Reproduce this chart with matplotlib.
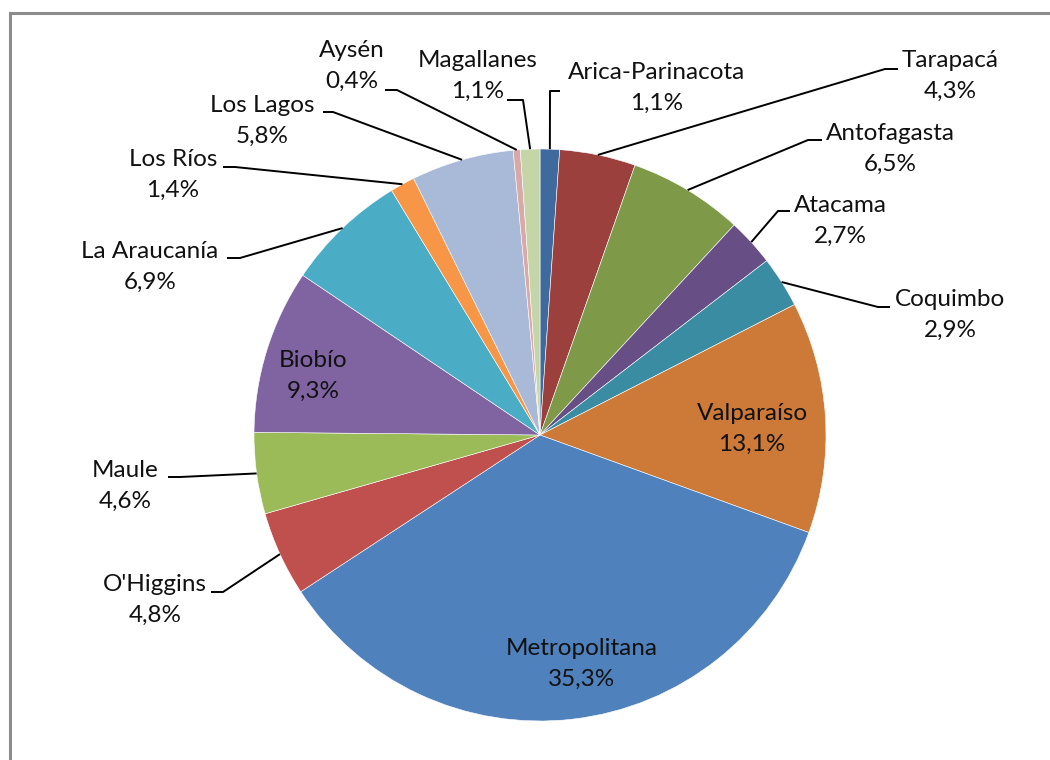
import numpy as np
import matplotlib.pyplot as plt
from matplotlib.patches import Rectangle

plt.rcParams['font.family'] = ['Lato', 'DejaVu Sans']

regions = ['Arica-Parinacota', 'Tarapacá', 'Antofagasta', 'Atacama', 'Coquimbo',
           'Valparaíso', 'Metropolitana', "O'Higgins", 'Maule', 'Biobío',
           'La Araucanía', 'Los Ríos', 'Los Lagos', 'Aysén', 'Magallanes']
shares = [1.1, 4.3, 6.5, 2.7, 2.9, 13.1, 35.3, 4.8, 4.6, 9.3, 6.9, 1.4, 5.8, 0.4, 1.1]
colors = ['#3F6A9D', '#9C403E', '#7E9A49', '#674F85', '#3A8CA3', '#CD7A38',
          '#4F81BD', '#C0504D', '#9BBB59', '#8064A2', '#4BACC6', '#F79646',
          '#A9B9D8', '#D9A9A8', '#C4D5A8']

W, H = 1050, 760
CX, CY, R = 540, 435, 286

fig = plt.figure(figsize=(W / 100, H / 100), dpi=100)
fig.patches.append(Rectangle((10 / W, -0.1), 1.2, 1 - 13 / H + 0.1,
                             transform=fig.transFigure, fill=False,
                             edgecolor='#8C8C8C', linewidth=2.2))
ax = fig.add_axes([(CX - R) / W, 1 - (CY + R) / H, 2 * R / W, 2 * R / H])

wedges, _ = ax.pie(shares, colors=colors, startangle=90, counterclock=False,
                   radius=1, wedgeprops=dict(edgecolor='white', linewidth=0.4))
ax.set_xlim(-1, 1)
ax.set_ylim(-1, 1)
ax.axis('off')


def px(x, y):
    # pixel position -> data units of the pie axes
    return (x - CX) / R, (CY - y) / R


# label placement: text centre, elbow of leader, end of leader (pixels)
layout = {
    'Arica-Parinacota': ((657, 88), (550, 91), 560),
    'Tarapacá': ((950, 76), (885, 69), 898),
    'Antofagasta': ((890, 149), (808, 140), 822),
    'Atacama': ((840, 221), (778, 211), 790),
    'Coquimbo': ((950, 315), (878, 307), 890),
    "O'Higgins": ((155, 600), (223, 592), 211),
    'Maule': ((125, 486), (180, 477), 168),
    'La Araucanía': ((150, 267), (240, 258), 227),
    'Los Ríos': ((173, 175), (235, 167), 223),
    'Los Lagos': ((262, 121), (333, 112), 323),
    'Aysén': ((352, 66), (397, 90), 385),
    'Magallanes': ((478, 76), (523, 100), 507),
}
inside = {'Valparaíso': (752, 429), 'Metropolitana': (582, 664), 'Biobío': (313, 376)}

for w, name, val in zip(wedges, regions, shares):
    label = f'{name}\n{val:.1f}%'.replace('.', ',')
    if name in inside:
        ax.text(*px(*inside[name]), label, ha='center', va='center',
                fontsize=17.5, linespacing=1.55, color='#111111')
        continue
    (tx, ty), (ex, ey), endx = layout[name]
    ang = np.deg2rad((w.theta1 + w.theta2) / 2)
    x0, y0 = np.cos(ang), np.sin(ang)
    x1, y1 = px(ex, ey)
    x2, _ = px(endx, ey)
    ax.plot([x0, x1, x2], [y0, y1, y1], color='black', lw=1.4,
            solid_capstyle='butt', clip_on=False)
    ax.text(*px(tx, ty), label, ha='center', va='center',
            fontsize=17.5, linespacing=1.55, color='#111111')

fig.savefig('out.png', dpi=100)
